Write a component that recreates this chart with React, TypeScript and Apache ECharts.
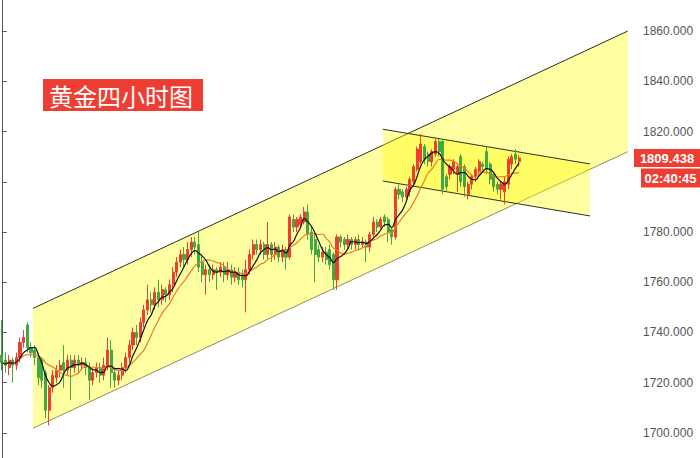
import React, { useEffect, useRef } from "react";
import * as echarts from "echarts";

// [open, close, low, high] for each 4-hour candle
const candles: number[][] = [
  [1731, 1728, 1725, 1745], [1729, 1727, 1724, 1732], [1726, 1729, 1723, 1731], [1729, 1727, 1720, 1730],
  [1727, 1730, 1725, 1732], [1730, 1736, 1728, 1738], [1736, 1738, 1734, 1741], [1743, 1734, 1732, 1744],
  [1734, 1732, 1730, 1736], [1733, 1730, 1727, 1735], [1730, 1722, 1719, 1732], [1729, 1721, 1718, 1730],
  [1724, 1709, 1706, 1725], [1709, 1718, 1703, 1719], [1718, 1723, 1716, 1725], [1722, 1725, 1720, 1727],
  [1725, 1727, 1722, 1729], [1728, 1725, 1718, 1735], [1725, 1729, 1723, 1731], [1729, 1726, 1713, 1731],
  [1726, 1729, 1724, 1731], [1729, 1727, 1724, 1731], [1727, 1728, 1725, 1730], [1728, 1726, 1723, 1730],
  [1726, 1721, 1713, 1728], [1721, 1724, 1719, 1726], [1724, 1726, 1722, 1728], [1726, 1723, 1720, 1728],
  [1723, 1727, 1721, 1730], [1727, 1733, 1725, 1738], [1733, 1724, 1718, 1737], [1724, 1721, 1718, 1726],
  [1721, 1723, 1719, 1725], [1723, 1726, 1721, 1728], [1726, 1730, 1724, 1732], [1730, 1735, 1728, 1737],
  [1735, 1740, 1733, 1742], [1740, 1738, 1735, 1743], [1738, 1744, 1736, 1746], [1744, 1749, 1742, 1751],
  [1749, 1753, 1747, 1759], [1753, 1751, 1748, 1756], [1751, 1756, 1749, 1758], [1756, 1753, 1750, 1761],
  [1753, 1757, 1751, 1759], [1757, 1755, 1752, 1758], [1755, 1759, 1753, 1761], [1759, 1764, 1756, 1766],
  [1764, 1768, 1762, 1770], [1768, 1771, 1766, 1773], [1771, 1769, 1766, 1774], [1769, 1773, 1767, 1776],
  [1773, 1776, 1770, 1778], [1776, 1774, 1771, 1778], [1775, 1766, 1764, 1780], [1768, 1763, 1760, 1771],
  [1763, 1765, 1755, 1767], [1765, 1763, 1760, 1767], [1763, 1765, 1761, 1767], [1765, 1764, 1757, 1766],
  [1764, 1766, 1762, 1768], [1766, 1763, 1760, 1768], [1763, 1765, 1761, 1768], [1765, 1762, 1759, 1767],
  [1762, 1764, 1760, 1766], [1764, 1761, 1759, 1766], [1763, 1761, 1758, 1765], [1761, 1765, 1748, 1769],
  [1765, 1771, 1763, 1773], [1771, 1775, 1769, 1777], [1775, 1773, 1771, 1777], [1773, 1775, 1771, 1777],
  [1775, 1771, 1769, 1776], [1771, 1775, 1769, 1784], [1775, 1771, 1768, 1776], [1771, 1774, 1769, 1776],
  [1774, 1770, 1768, 1775], [1770, 1773, 1768, 1775], [1773, 1770, 1765, 1774], [1770, 1786, 1769, 1787],
  [1785, 1782, 1780, 1787], [1782, 1785, 1780, 1786], [1783, 1786, 1782, 1787], [1784, 1788, 1783, 1790],
  [1788, 1779, 1777, 1791], [1780, 1773, 1771, 1782], [1777, 1771, 1760, 1779], [1773, 1770, 1768, 1775],
  [1770, 1772, 1768, 1774], [1772, 1769, 1767, 1774], [1773, 1767, 1765, 1775], [1771, 1761, 1757, 1772],
  [1761, 1778, 1757, 1779], [1778, 1776, 1774, 1779], [1777, 1775, 1773, 1778], [1775, 1777, 1773, 1779],
  [1777, 1775, 1773, 1778], [1775, 1777, 1773, 1778], [1777, 1775, 1773, 1779], [1775, 1776, 1774, 1778],
  [1776, 1774, 1768, 1777], [1774, 1779, 1772, 1780], [1779, 1784, 1778, 1786], [1784, 1782, 1780, 1785],
  [1782, 1785, 1781, 1786], [1786, 1784, 1782, 1787], [1785, 1780, 1776, 1786], [1781, 1778, 1775, 1782],
  [1778, 1797, 1777, 1798], [1797, 1795, 1793, 1799], [1796, 1794, 1792, 1797], [1794, 1797, 1792, 1798],
  [1796, 1801, 1794, 1802], [1800, 1806, 1799, 1807], [1805, 1813, 1804, 1814], [1808, 1815, 1807, 1819],
  [1814, 1809, 1807, 1815], [1811, 1808, 1806, 1812], [1808, 1812, 1806, 1813], [1811, 1816, 1810, 1817],
  [1816, 1812, 1810, 1817], [1816, 1797, 1795, 1817], [1802, 1798, 1796, 1803], [1803, 1806, 1801, 1807],
  [1805, 1808, 1803, 1809], [1803, 1806, 1796, 1807], [1810, 1800, 1798, 1811], [1806, 1798, 1794, 1807],
  [1795, 1799, 1793, 1800], [1799, 1802, 1797, 1803], [1802, 1805, 1800, 1806], [1804, 1808, 1803, 1809],
  [1807, 1806, 1804, 1808], [1812, 1805, 1803, 1814], [1807, 1801, 1799, 1808], [1803, 1798, 1796, 1804],
  [1799, 1797, 1795, 1800], [1797, 1799, 1793, 1800], [1796, 1800, 1791, 1802], [1799, 1809, 1797, 1810],
  [1807, 1810, 1805, 1811], [1811, 1809, 1807, 1813], [1808, 1809.438, 1806, 1810.5],
];

// number of slots on the time axis (candles plus empty space to the right)
const slotCount = 174;
const categories = Array.from({ length: slotCount }, (_, i) => String(i + 1));

// channels: [startSlot, endSlot, upperStart, upperEnd, lowerStart, lowerEnd]
const channels: number[][] = [
  [8.56, 171.8, 1749.6, 1860.0, 1701.9, 1811.96],
  [104.6, 161.4, 1820.9, 1807.1, 1800.3, 1786.4],
];

const lastPrice = 1809.438;
const countdown = "02:40:45";
const title = "黄金四小时图";
const maShort = 5;
const maLong = 10;

const channelUpperColors = ["#2e2e20", "#2e2e20"];
const channelLowerColors = ["#8f8f62", "#2e2e20"];

function movingAverage(period: number): number[] {
  const closes = candles.map((c) => c[1]);
  return closes.map((_, i) => {
    const start = Math.max(0, i - period + 1);
    const win = closes.slice(start, i + 1);
    return +(win.reduce((a, b) => a + b, 0) / win.length).toFixed(3);
  });
}

const RED = "#ec3f31";
const GREEN = "#43a843";

export default function App() {
  const ref = useRef<HTMLDivElement>(null);
  useEffect(() => {
    if (!ref.current) return;
    const chart = echarts.init(ref.current, undefined, { renderer: "svg" });
    const option: any = {
      animation: false,
      backgroundColor: "#ffffff",
      grid: { left: 0, right: 66, top: -19.2, bottom: -25.2, containLabel: false, outerBoundsMode: "none" },
      xAxis: [
        { type: "category", data: categories, show: false, boundaryGap: true },
        { type: "value", min: -0.5, max: slotCount - 0.5, show: false },
      ],
      yAxis: {
        type: "value",
        position: "right",
        min: 1680,
        max: 1880,
        interval: 20,
        splitLine: { show: false },
        axisLine: { show: true, lineStyle: { color: "#555555", width: 1 } },
        axisTick: { show: true, length: 5, lineStyle: { color: "#555555" } },
        axisLabel: {
          margin: 9,
          color: "#555555",
          fontSize: 12,
          showMinLabel: false,
          showMaxLabel: false,
          fontFamily: "Liberation Sans, Arial, sans-serif",
          // the label nearest the live price sits under the price tag
          formatter: (v: number) => (Math.abs(v - lastPrice) < 10 ? "" : v.toFixed(3)),
        },
      },
      series: [
        {
          type: "custom",
          xAxisIndex: 1,
          yAxisIndex: 0,
          z: 1,
          clip: false,
          encode: { x: [0, 1], y: [2, 3, 4, 5] },
          data: channels,
          renderItem: (params: any, api: any) => {
            const x0 = api.value(0);
            const x1 = api.value(1);
            const p1 = api.coord([x0, api.value(2)]);
            const p2 = api.coord([x1, api.value(3)]);
            const p3 = api.coord([x1, api.value(5)]);
            const p4 = api.coord([x0, api.value(4)]);
            const i = params.dataIndex;
            return {
              type: "group",
              children: [
                { type: "polygon", shape: { points: [p1, p2, p3, p4] }, style: { fill: "rgba(255,255,0,0.37)" } },
                { type: "line", shape: { x1: p1[0], y1: p1[1], x2: p2[0], y2: p2[1] }, style: { stroke: channelUpperColors[i], lineWidth: 1 } },
                { type: "line", shape: { x1: p4[0], y1: p4[1], x2: p3[0], y2: p3[1] }, style: { stroke: channelLowerColors[i], lineWidth: 1 } },
              ],
            };
          },
        },
        {
          type: "candlestick",
          z: 3,
          barWidth: 2.6,
          data: candles,
          itemStyle: { color: RED, color0: GREEN, borderColor: RED, borderColor0: GREEN, borderWidth: 1 },
        },
        {
          type: "line",
          z: 4,
          data: movingAverage(maLong),
          smooth: true,
          showSymbol: false,
          symbol: "none",
          lineStyle: { color: "#ee7a2c", width: 1.2 },
        },
        {
          type: "line",
          z: 5,
          data: movingAverage(maShort),
          smooth: true,
          showSymbol: false,
          symbol: "none",
          lineStyle: { color: "#111111", width: 1.2 },
        },
      ],
    };
    chart.setOption(option);
    const py = chart.convertToPixel({ yAxisIndex: 0 }, lastPrice) as number;
    chart.setOption({
      graphic: [
        { type: "rect", z: 100, shape: { x: 43, y: 79, width: 160, height: 32 }, style: { fill: "#ee3e33" } },
        {
          type: "text",
          z: 101,
          x: 121,
          y: 95.5,
          style: {
            text: title,
            fill: "#ffffff",
            fontSize: 24,
            fontFamily: "Noto Sans CJK SC",
            align: "center",
            verticalAlign: "middle",
          },
        },
        { type: "rect", z: 100, shape: { x: 634, y: py - 9, width: 66, height: 18 }, style: { fill: "#ee3e33" } },
        {
          type: "text",
          z: 101,
          x: 667,
          y: py,
          style: {
            text: lastPrice.toFixed(3),
            fill: "#ffffff",
            fontSize: 13,
            fontWeight: "bold",
            fontFamily: "Liberation Sans, Arial, sans-serif",
            align: "center",
            verticalAlign: "middle",
          },
        },
        { type: "rect", z: 100, shape: { x: 641, y: py + 10.5, width: 59, height: 19 }, style: { fill: "#ee3e33" } },
        {
          type: "text",
          z: 101,
          x: 670.5,
          y: py + 20,
          style: {
            text: countdown,
            fill: "#ffffff",
            fontSize: 13,
            fontWeight: "bold",
            fontFamily: "Liberation Sans, Arial, sans-serif",
            align: "center",
            verticalAlign: "middle",
          },
        },
      ],
    });
    return () => chart.dispose();
  }, []);
  return (
    <div
      ref={ref}
      style={{ position: "fixed", left: 0, top: 0, width: 700, height: 458, background: "#ffffff" }}
    />
  );
}
